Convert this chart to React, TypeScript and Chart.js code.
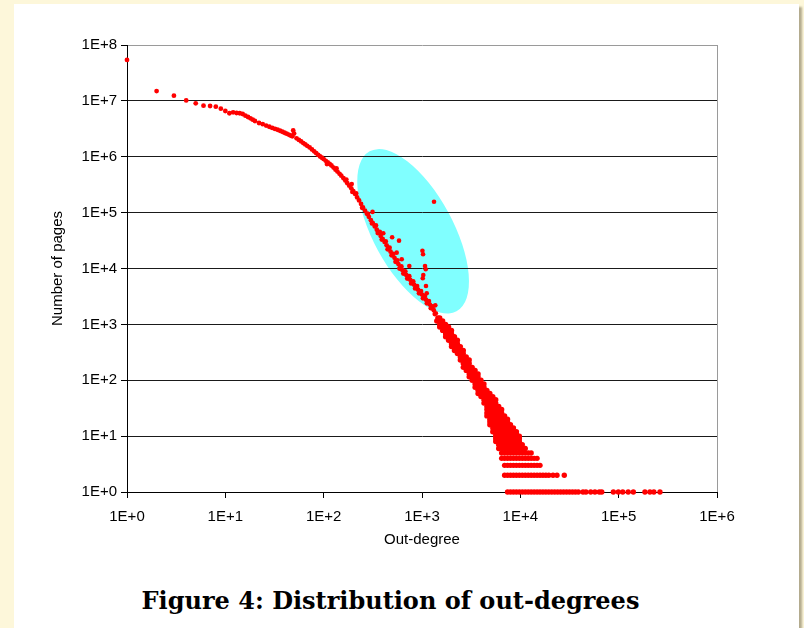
import React, { useEffect, useRef } from "react";
import { Chart, registerables } from "chart.js";

Chart.register(...registerables);

// ---- Data (out-degree, number of pages) ----
const curveDegrees = [1, 2, 3, 4, 5, 6, 7, 8, 9, 10, 11, 12, 13, 14, 15, 16, 17, 18, 19, 20, 22, 24, 26, 28, 30, 32, 34, 36, 38, 40, 42, 44, 46, 48, 49, 50, 53, 56, 59, 62, 65, 68, 72, 76, 80, 84, 88, 92, 96, 100, 105, 110, 115, 120, 126, 132, 138, 145, 151, 159, 166, 174, 182, 191, 200, 209, 219, 229, 240, 251, 263, 275, 288, 302, 316, 331, 347, 363, 380, 398, 417, 437, 457, 479, 501, 525, 550, 575, 603, 631, 661, 692, 724, 759, 794, 832, 871, 912, 955, 1000, 1047, 1096, 1148, 1202, 1259, 1318, 1380];
const curveCounts = [5.4e7, 1.5e7, 1.24e7, 1.02e7, 9.05e6, 8.2e6, 8.1e6, 7.87e6, 7.24e6, 6.59e6, 6.0e6, 6.25e6, 6.07e6, 6.0e6, 5.82e6, 5.43e6, 5.14e6, 4.88e6, 4.6e6, 4.36e6, 4.02e6, 3.83e6, 3.61e6, 3.44e6, 3.28e6, 3.15e6, 3.04e6, 2.92e6, 2.8e6, 2.69e6, 2.59e6, 2.49e6, 2.4e6, 2.32e6, 2.95e6, 2.6e6, 2.14e6, 2.0e6, 1.88e6, 1.76e6, 1.66e6, 1.57e6, 1.47e6, 1.35e6, 1.25e6, 1.16e6, 1.08e6, 1.01e6, 9.6e5, 9.08e5, 8.46e5, 7.92e5, 7.41e5, 6.97e5, 6.4e5, 5.86e5, 5.42e5, 4.95e5, 4.58e5, 4.13e5, 3.76e5, 3.36e5, 3.03e5, 2.72e5, 2.43e5, 2.15e5, 1.87e5, 1.65e5, 1.43e5, 1.24e5, 1.09e5, 9.57e4, 8.42e4, 7.31e4, 6.47e4, 5.67e4, 4.94e4, 4.37e4, 3.83e4, 3.37e4, 2.97e4, 2.6e4, 2.3e4, 2.0e4, 1.77e4, 1.55e4, 1.36e4, 1.2e4, 1.05e4, 9440, 8510, 7680, 6950, 6280, 5690, 5130, 4650, 4180, 3780, 3410, 3060, 2770, 2490, 2260, 2030, 1790, 1580];

const spreadDegrees = [108, 135, 170, 196, 214, 246, 282, 310, 340, 355, 372, 390, 428, 447, 468, 490, 512, 538, 562, 590, 617, 646, 676, 708, 742, 776, 813, 851, 891, 933, 977, 1023, 1071, 1122, 1175, 1230, 1288, 1349];
const spreadCounts = [7.4e5, 6.2e5, 3.9e5, 2.35e5, 2.2e5, 1.22e5, 9.5e4, 6.4e4, 5.9e4, 4.3e4, 4.5e4, 3.3e4, 3.05e4, 2.2e4, 2.35e4, 1.72e4, 1.83e4, 1.32e4, 1.4e4, 1.0e4, 1.09e4, 8100, 8900, 6600, 7300, 5400, 5900, 4400, 4850, 3600, 3950, 2920, 3220, 2380, 2610, 1950, 2100, 1530];

const outlierDegrees = [193, 314, 404, 497, 584, 553, 622, 743, 1010, 1025, 1073, 1091, 1031, 1018, 1098, 1117, 1366, 1325];
const outlierCounts = [3.25e5, 1.03e5, 4.27e4, 3.62e4, 3.15e4, 1.92e4, 1.46e4, 1.11e4, 2.08e4, 1.8e4, 1.11e4, 9680, 7660, 6680, 4860, 3600, 2190, 1.57e5];

// Dense tail: for each page count, the out-degrees where dots sit in that row
const bandLevels = [1300, 1150, 1000, 900, 780, 680, 600, 520, 450, 400, 340, 300, 260, 230, 200, 170, 150, 130, 115, 100, 86, 75, 66, 58, 51, 45, 39, 34, 30, 26, 23, 20, 18, 16, 14, 12, 11, 10, 9, 8, 7, 6, 5, 4, 3, 2, 1];
const bandDegrees = [
  [1450, 1514],
  [1413, 1514, 1622],
  [1514, 1622, 1738],
  [1514, 1622, 1738, 1862],
  [1622, 1738, 1862, 1995],
  [1738, 1862, 1995],
  [1738, 1862, 1995, 2138],
  [1862, 1995, 2138, 2291],
  [1995, 2138, 2291],
  [1995, 2138, 2291, 2455],
  [2138, 2291, 2455, 2630],
  [2291, 2455, 2630],
  [2455, 2630, 2818],
  [2455, 2630, 2818, 3020],
  [2630, 2818, 3020],
  [2630, 2818, 3020, 3236],
  [2818, 3020, 3236, 3467],
  [3020, 3236, 3467, 3715],
  [3020, 3236, 3467, 3715],
  [3236, 3467, 3715, 3981],
  [3467, 3715, 3981, 4266],
  [3467, 3715, 3981, 4266],
  [3715, 3981, 4266, 4571],
  [3715, 3981, 4266, 4571, 4898],
  [3981, 4266, 4571, 4898, 5248],
  [4266, 4571, 4898, 5248, 5623],
  [4266, 4571, 4898, 5248, 5623],
  [4571, 4898, 5248, 5623, 6026],
  [4571, 4898, 5248, 5623, 6026, 6457],
  [4571, 4898, 5248, 5623, 6026, 6457],
  [4571, 4898, 5248, 5623, 6026, 6457, 6918],
  [4898, 5248, 5623, 6026, 6457, 6918, 7413],
  [4898, 5248, 5623, 6026, 6457, 6918, 7413],
  [4898, 5248, 5623, 6026, 6457, 6918, 7413, 7943],
  [5248, 5623, 6026, 6457, 6918, 7413, 7943, 8511],
  [5248, 5623, 6026, 6457, 6918, 7413, 7943, 8511, 9120],
  [5623, 6026, 6457, 6918, 7413, 7943, 8511, 9120],
  [5623, 6026, 6457, 6918, 7413, 7943, 8511, 9120, 9772],
  [5623, 6026, 6457, 6918, 7413, 7943, 8511, 9120, 9772],
  [5623, 6026, 6457, 6918, 7413, 7943, 8511, 9120, 9772],
  [6026, 6457, 6918, 7413, 7943, 8511, 9120, 9772, 10471],
  [6026, 6457, 6918, 7413, 7943, 8511, 9120, 9772, 10471, 11220],
  [6457, 6918, 7413, 7943, 8511, 9120, 9772, 10471, 11220, 12023, 12882],
  [6457, 6918, 7413, 7943, 8511, 9120, 9772, 10471, 11220, 12023, 12882, 13804, 14791],
  [6918, 7413, 7943, 8511, 9120, 9772, 10471, 11220, 12023, 12882, 13804, 14791, 15849],
  [6918, 7413, 7943, 8511, 9120, 9772, 10471, 11220, 12023, 12882, 13804, 14791, 15849, 16982, 18197, 19498, 21500, 23600, 28000],
  [7413, 7943, 8511, 9120, 9772, 10471, 11220, 12023, 12882, 13804, 14791, 15849, 16982, 18197, 19498, 20893, 22387, 23988, 25704, 27542, 29512, 31623, 33884, 36308, 38905, 43400, 46500, 52000, 57400, 63500, 67300, 88300, 99200, 110000, 125000, 141000, 185000, 208000, 228000, 263000],
];

const xTickValues = [1, 10, 100, 1000, 10000, 100000, 1000000];
const xTickLabels = ["1E+0", "1E+1", "1E+2", "1E+3", "1E+4", "1E+5", "1E+6"];
const yTickValues = [1, 10, 100, 1000, 10000, 100000, 1000000, 10000000, 100000000];
const yTickLabels = ["1E+0", "1E+1", "1E+2", "1E+3", "1E+4", "1E+5", "1E+6", "1E+7", "1E+8"];

// Highlight ellipse centre (out-degree, pages)
const highlightCenter = [812, 46300];

const xTitle = "Out-degree";
const yTitle = "Number of pages";
const caption = "Figure 4: Distribution of out-degrees";

const AXIS_FONT = { family: "'Liberation Sans', Arial, sans-serif", size: 15 };

const framePlugin = {
  id: "frameAndHighlight",
  beforeDraw(chart: any) {
    const { ctx, scales } = chart;
    const x = scales.x;
    const y = scales.y;
    const cx = x.getPixelForValue(highlightCenter[0]);
    const cy = y.getPixelForValue(highlightCenter[1]);
    ctx.save();
    ctx.fillStyle = "#80ffff";
    ctx.beginPath();
    ctx.ellipse(cx, cy, 91, 40, (61.5 * Math.PI) / 180, 0, Math.PI * 2);
    ctx.fill();
    ctx.restore();
  },
  afterDraw(chart: any) {
    const { ctx, chartArea } = chart;
    ctx.save();
    ctx.strokeStyle = "#9a9a9a";
    ctx.lineWidth = 1;
    ctx.beginPath();
    ctx.moveTo(Math.round(chartArea.right) + 0.5, chartArea.top);
    ctx.lineTo(Math.round(chartArea.right) + 0.5, chartArea.bottom);
    ctx.stroke();
    ctx.restore();
  },
};

export default function App() {
  const canvasRef = useRef<HTMLCanvasElement | null>(null);

  useEffect(() => {
    const canvas = canvasRef.current;
    if (!canvas) return;

    const curvePts = curveDegrees.map((d, i) => ({ x: d, y: curveCounts[i] }));
    const spreadPts = spreadDegrees.map((d, i) => ({ x: d, y: spreadCounts[i] }));
    const outlierPts = outlierDegrees.map((d, i) => ({ x: d, y: outlierCounts[i] }));
    const bandPts = bandLevels.flatMap((c, i) => bandDegrees[i].map((d) => ({ x: d, y: c })));

    const pointStyle = {
      pointRadius: 2.3,
      pointHoverRadius: 2.3,
      pointBackgroundColor: "#ff0000",
      pointBorderWidth: 0,
      backgroundColor: "#ff0000",
      borderColor: "#ff0000",
      showLine: false,
      clip: false as any,
    };

    const chart = new Chart(canvas, {
      type: "scatter",
      data: {
        datasets: [
          { label: "curve", data: curvePts, ...pointStyle, pointRadius: 2.4, pointHoverRadius: 2.4 },
          { label: "spread", data: spreadPts, ...pointStyle, pointRadius: 2.4, pointHoverRadius: 2.4 },
          { label: "outliers", data: outlierPts, ...pointStyle },
          { label: "tail", data: bandPts, ...pointStyle, pointRadius: 2.7, pointHoverRadius: 2.7 },
        ],
      },
      options: {
        responsive: false,
        animation: false,
        events: [],
        layout: { padding: { left: 45, top: 45, right: 87, bottom: 7 } },
        plugins: {
          legend: { display: false },
          tooltip: { enabled: false },
        },
        scales: {
          x: {
            type: "logarithmic",
            position: "bottom",
            min: 1,
            max: 1000000,
            afterBuildTicks: (s: any) => {
              s.ticks = xTickValues.map((v) => ({ value: v }));
            },
            afterFit: (s: any) => {
              s.height = 61;
            },
            ticks: {
              autoSkip: false,
              maxRotation: 0,
              minRotation: 0,
              padding: 10,
              color: "#000",
              font: AXIS_FONT,
              callback: (v: any) => {
                const i = xTickValues.indexOf(Number(v));
                return i >= 0 ? xTickLabels[i] : "";
              },
            },
            grid: {
              drawOnChartArea: false,
              drawTicks: true,
              tickLength: 6,
              tickColor: "#000",
              color: "#000",
            },
            border: { display: true, color: "#000", width: 1 },
            title: {
              display: true,
              text: xTitle,
              color: "#000",
              font: AXIS_FONT,
              padding: { top: 0, bottom: 4 },
            },
          },
          y: {
            type: "logarithmic",
            position: "left",
            min: 1,
            max: 100000000,
            afterBuildTicks: (s: any) => {
              s.ticks = yTickValues.map((v) => ({ value: v }));
            },
            afterFit: (s: any) => {
              s.width = 82;
            },
            ticks: {
              autoSkip: false,
              padding: 4,
              color: "#000",
              font: AXIS_FONT,
              callback: (v: any) => {
                const i = yTickValues.indexOf(Number(v));
                return i >= 0 ? yTickLabels[i] : "";
              },
            },
            grid: {
              drawOnChartArea: true,
              drawTicks: true,
              tickLength: 6,
              tickColor: "#000",
              lineWidth: 1,
              color: (ctx: any) =>
                ctx.tick && ctx.tick.value === 100000000 ? "#9a9a9a" : "#1a1a1a",
            },
            border: { display: true, color: "#000", width: 1 },
            title: {
              display: true,
              text: yTitle,
              color: "#000",
              font: AXIS_FONT,
              padding: { top: 4, bottom: 4 },
            },
          },
        },
      },
      plugins: [framePlugin],
    });

    return () => {
      chart.destroy();
    };
  }, []);

  return (
    <div
      style={{
        position: "absolute",
        left: 0,
        top: 0,
        width: 804,
        height: 628,
        background: "#fdf7da",
        overflow: "hidden",
      }}
    >
      <div
        style={{
          position: "absolute",
          left: 14,
          top: 4,
          width: 785,
          height: 660,
          background: "#ffffff",
          boxShadow: "3px 3px 2px #b3ab8e",
        }}
      />
      <canvas
        ref={canvasRef}
        width={804}
        height={560}
        style={{ position: "absolute", left: 0, top: 0, display: "block" }}
      />
      <div
        style={{
          position: "absolute",
          left: 0,
          top: 589,
          width: 781,
          textAlign: "center",
          fontFamily: "'DejaVu Serif', serif",
          fontWeight: "bold",
          fontSize: 24,
          lineHeight: "24px",
          color: "#000",
          whiteSpace: "nowrap",
        }}
      >
        {caption}
      </div>
    </div>
  );
}
